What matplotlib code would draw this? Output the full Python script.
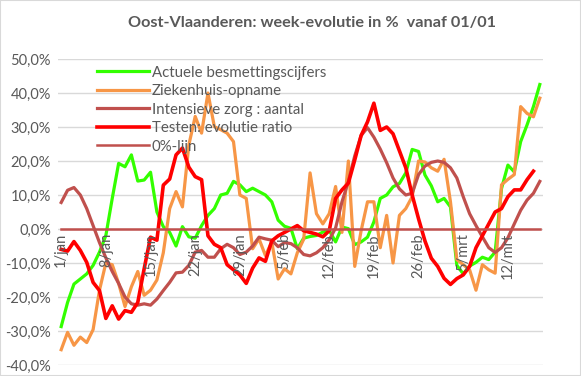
import matplotlib
matplotlib.use("Agg")
import matplotlib.pyplot as plt
from matplotlib.patches import Rectangle

plt.rcParams['font.family'] = ['Lato', 'DejaVu Sans']

# daily values in %, 1/jan .. 17/mrt
actuele = [-28.7, -21.6, -16.2, -14.7, -13.2, -10.7, -6.8, -1.9, 9.0, 19.3,
           18.3, 21.8, 14.1, 14.4, 16.7, 5.0, 0.7, -1.0, -5.0, 0.7,
           -2.3, -2.7, 1.0, 4.0, 6.0, 10.0, 10.5, 14.0, 13.0, 11.0,
           12.0, 11.0, 10.0, 8.0, 2.6, 0.8, 0.2, -5.8, -2.7, -2.2,
           -1.9, -0.9, -0.4, -3.8, 0.6, 0.1, -4.6, -3.8, -2.4, 2.1,
           9.0, 10.0, 12.4, 13.4, 16.5, 23.4, 22.8, 15.9, 12.7, 8.0,
           9.0, 6.5, -10.7, -13.2, -10.9, -9.8, -8.3, -9.0, -6.8, 11.9,
           18.8, 16.8, 25.7, 30.6, 36.0, 42.5]
ziekenhuis = [-35.5, -30.4, -34.2, -31.8, -33.4, -29.6, -18.0, -10.0, -10.5, -16.0,
              -22.8, -17.0, -12.5, -19.5, -18.0, -15.0, -7.0, 6.0, 11.0, 6.5,
              24.7, 33.1, 28.2, 40.0, 30.1, 29.2, 28.2, 25.7, 10.0, 9.0,
              -5.8, -2.9, -7.8, -3.8, -14.7, -11.7, -13.2, -7.0, -3.0, 16.5,
              4.5, 1.5, 4.5, 12.5, -1.0, 20.0, -11.0, -0.5, 8.0, 8.0,
              -5.5, 4.0, -10.0, 4.0, 6.0, 9.5, 20.0, 19.7, 18.0, 17.0,
              20.5, 8.0, -9.0, -10.5, -12.0, -18.0, -10.5, -12.0, -13.0, 13.0,
              14.6, 16.0, 36.0, 34.0, 33.0, 38.5]
intensieve = [7.8, 11.4, 12.2, 10.0, 6.0, 1.0, -4.0, -8.5, -12.5, -16.0,
              -20.0, -22.0, -22.4, -22.0, -22.4, -20.6, -18.1, -15.7, -12.9, -12.7,
              -10.7, -6.8, -6.3, -8.3, -8.3, -5.8, -4.5, -5.5, -7.5, -6.8,
              -5.0, -2.4, -2.9, -3.3, -5.2, -4.0, -4.3, -5.5, -7.5, -7.9,
              -7.0, -5.5, -3.2, 0.3, 8.0, 14.0, 21.5, 27.5, 29.8, 27.0,
              23.5, 19.5, 15.0, 11.8, 10.0, 10.5, 16.0, 18.5, 19.6, 20.0,
              19.6, 18.0, 15.0, 9.5, 4.5, 1.0, -2.3, -5.5, -6.9, -5.5,
              -2.6, 1.5, 5.5, 8.5, 10.5, 14.0]
testen = [-6.0, -6.5, -3.7, -6.3, -9.8, -15.7, -18.1, -26.3, -22.6, -26.5,
          -24.0, -24.5, -21.6, -11.7, -2.4, -3.3, 12.9, 14.7, 21.8, 23.8,
          18.2, 15.4, 14.5, -2.0, -4.5, -5.5, -10.5, -12.0, -13.5, -16.0,
          -11.5, -8.5, -9.5, -3.5, -2.0, -1.0, 0.0, 1.0, -0.5, -1.0,
          -1.5, -2.3, -0.5, 9.0, 11.5, 13.5, 20.3, 27.5, 31.5, 37.0,
          29.0, 30.0, 28.0, 23.0, 18.0, 10.0, 3.0, -3.5, -8.6, -11.0,
          -14.5, -16.3, -14.6, -13.5, -11.0, -5.5, -2.0, 1.5, 5.0, 6.0,
          9.5, 11.5, 11.5, 14.5, 17.0]
nullijn = [0.0] * len(actuele)

tick_pos = [0, 7, 14, 21, 28, 35, 42, 49, 56, 63, 70]
tick_labels = ['1/jan', '8/jan', '15/jan', '22/jan', '29/jan', '5/feb',
               '12/feb', '19/feb', '26/feb', '5/mrt', '12/mrt']
y_ticks = [-40, -30, -20, -10, 0, 10, 20, 30, 40, 50]

fig = plt.figure(figsize=(5.81, 3.76), dpi=100)
fig.patches.append(Rectangle((0, 0), 1, 1, transform=fig.transFigure,
                             fill=False, edgecolor='#D9D9D9', lw=1.5))
ax = fig.add_axes([58 / 581, 1 - 365 / 376, 485 / 581, 306 / 376])

gray = '#595959'
x = list(range(len(actuele)))
ax.plot(x, actuele, color='#33FF00', lw=2.3, label='Actuele besmettingscijfers')
ax.plot(x, ziekenhuis, color='#F79646', lw=2.3, label='Ziekenhuis-opname')
ax.plot(x, intensieve, color='#C0504D', lw=2.3, label='Intensieve zorg : aantal')
ax.plot(range(len(testen)), testen, color='#FF0000', lw=2.6, label='Testen: evolutie ratio')
ax.plot(x, nullijn, color='#C0504D', lw=1.8, label='0%-lijn')

ax.set_xlim(-0.5, len(actuele) - 0.5)
ax.set_ylim(-40, 50)
ax.set_yticks(y_ticks)
ax.set_yticklabels([f'{v},0%' for v in y_ticks], color=gray, fontsize=10.5)
ax.grid(axis='y', color='#D9D9D9', lw=1)
ax.set_axisbelow(True)
ax.set_xticks([])
ax.tick_params(axis='y', length=0, pad=5)
for s in ax.spines.values():
    s.set_visible(False)

for p, lab in zip(tick_pos, tick_labels):
    ax.annotate(lab, (p, 0), xytext=(0, -3), textcoords='offset points',
                rotation=90, ha='center', va='top', color=gray, fontsize=10.5)

ax.legend(loc='upper left', bbox_to_anchor=(0.08, 0.978), frameon=False,
          fontsize=10.8, handlelength=3.5, handletextpad=0.15, labelspacing=0.3,
          borderpad=0, borderaxespad=0, labelcolor=gray)

fig.text(0.537, 0.94, 'Oost-Vlaanderen: week-evolutie in %  vanaf 01/01',
         ha='center', va='center', fontsize=11.7, fontweight='bold', color=gray)

fig.savefig('out.png', dpi=100)
